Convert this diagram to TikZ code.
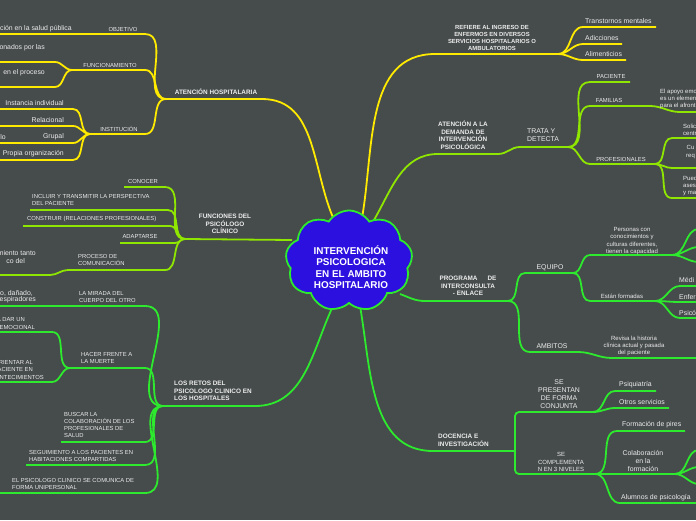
\documentclass[tikz,border=0pt]{standalone}
\usepackage{fontspec}
\setmainfont{Liberation Sans}
\usepackage{tikz}
\usetikzlibrary{shapes.symbols}
\definecolor{mBack}{HTML}{464B4B}
\definecolor{mYellow}{HTML}{FFEA00}
\definecolor{mLime}{HTML}{8FE600}
\definecolor{mGreen}{HTML}{2EEA2E}
\definecolor{mCloud}{HTML}{2C10DF}
\definecolor{mText}{HTML}{EDEDED}
\tikzset{
  ylw/.style={draw=mYellow, line width=1.8pt},
  lme/.style={draw=mLime, line width=1.8pt},
  grn/.style={draw=mGreen, line width=1.8pt},
  crv/.style={out=0, in=180},
  hd/.style={text=mText, font=\fontsize{6.4}{7.6}\selectfont\bfseries, align=center, inner sep=0pt},
  hdl/.style={hd, align=left, anchor=west},
  lbl/.style={text=mText, font=\fontsize{5.85}{7.2}\selectfont, align=left, inner sep=0pt},
  leaf/.style={text=mText, font=\fontsize{6.9}{8.2}\selectfont, align=left, inner sep=0pt},
  note/.style={text=mText, font=\fontsize{6}{7.2}\selectfont, align=center, inner sep=0pt},
}

\begin{document}
\begin{tikzpicture}[x=1pt, y=1pt]
\fill[mBack] (0,0) rectangle (696,-520);
\useasboundingbox (0,0) rectangle (696,-520);

\coordinate (ahA) at (166,-99);
\coordinate (ahB) at (262,-99);
\coordinate (cA) at (335,-222);
\coordinate (obA) at (-3,-34);
\coordinate (obB) at (145,-34);
\coordinate (fuA) at (72,-70);
\coordinate (fuB) at (145,-70);
\coordinate (f1A) at (-3,-62);
\coordinate (f1B) at (55,-62);
\coordinate (f2A) at (-3,-87);
\coordinate (f2B) at (55,-87);
\coordinate (isA) at (90,-134);
\coordinate (isB) at (145,-134);
\coordinate (i1A) at (-3,-109);
\coordinate (i1B) at (73,-109);
\coordinate (i2A) at (-3,-126);
\coordinate (i2B) at (73,-126);
\coordinate (i3A) at (-3,-143);
\coordinate (i3B) at (73,-143);
\coordinate (i4A) at (-3,-160);
\coordinate (i4B) at (73,-160);
\draw[ylw] (ahA) -- (ahB) to[out=0,in=115] (cA);
\draw[ylw] (obA) -- (obB) to[crv] (ahA);
\draw[ylw] (fuA) -- (fuB) to[crv] (ahA);
\draw[ylw] (f1A) -- (f1B) to[crv] (fuA);
\draw[ylw] (f2A) -- (f2B) to[crv] (fuA);
\draw[ylw] (isA) -- (isB) to[crv] (ahA);
\draw[ylw] (i1A) -- (i1B) to[crv] (isA);
\draw[ylw] (i2A) -- (i2B) to[crv] (isA);
\draw[ylw] (i3A) -- (i3B) to[crv] (isA);
\draw[ylw] (i4A) -- (i4B) to[crv] (isA);

\coordinate (cB) at (362,-218);
\coordinate (riA) at (435,-54);
\coordinate (riB) at (558,-54);
\coordinate (trA) at (583,-27);
\coordinate (trB) at (656,-27);
\coordinate (dxA) at (583,-44);
\coordinate (dxB) at (622,-44);
\coordinate (amtA) at (583,-60);
\coordinate (amtB) at (626,-60);
\draw[ylw] (cB) to[out=80,in=180] (riA) -- (riB);
\draw[ylw] (riB) to[crv] (trA) -- (trB);
\draw[ylw] (riB) to[crv] (dxA) -- (dxB);
\draw[ylw] (riB) to[crv] (amtA) -- (amtB);

\coordinate (cC) at (374,-220);
\coordinate (adA) at (438,-154);
\coordinate (adB) at (498,-154);
\coordinate (tdA) at (520,-147);
\coordinate (tdB) at (568,-147);
\coordinate (paA) at (590,-82);
\coordinate (paB) at (630,-82);
\coordinate (faA) at (590,-106);
\coordinate (faB) at (650,-106);
\coordinate (faC) at (680,-112);
\coordinate (faD) at (699,-112);
\coordinate (prA) at (590,-164);
\coordinate (prB) at (655,-164);
\coordinate (p1A) at (672,-138);
\coordinate (p1B) at (699,-138);
\coordinate (p2A) at (672,-168);
\coordinate (p2B) at (699,-168);
\coordinate (p3A) at (672,-198);
\coordinate (p3B) at (699,-198);
\draw[lme] (cC) to[out=60,in=180] (adA) -- (adB) to[crv] (tdA) -- (tdB);
\draw[lme] (tdB) to[crv] (paA) -- (paB);
\draw[lme] (tdB) to[crv] (faA) -- (faB) to[crv] (faC) -- (faD);
\draw[lme] (tdB) to[crv] (prA) -- (prB);
\draw[lme] (prB) to[crv] (p1A) -- (p1B);
\draw[lme] (prB) to[crv] (p2A) -- (p2B);
\draw[lme] (prB) to[crv] (p3A) -- (p3B);

\coordinate (cD) at (400,-294);
\coordinate (pgA) at (425,-301);
\coordinate (pgB) at (508,-301);
\coordinate (eqA) at (525,-273);
\coordinate (eqB) at (573,-273);
\coordinate (ambA) at (530,-352);
\coordinate (ambB) at (578,-352);
\coordinate (ambC) at (612,-358);
\coordinate (ambD) at (699,-358);
\coordinate (peA) at (590,-255);
\coordinate (peB) at (672,-255);
\coordinate (pe1) at (699,-229);
\coordinate (pe2) at (699,-247);
\coordinate (pe3) at (699,-262);
\coordinate (efA) at (590,-301);
\coordinate (efB) at (655,-301);
\coordinate (e1A) at (680,-286);
\coordinate (e1B) at (699,-286);
\coordinate (e2A) at (680,-302);
\coordinate (e2B) at (699,-302);
\coordinate (e3A) at (680,-318);
\coordinate (e3B) at (699,-318);
\draw[grn] (cD) to[out=-20,in=180] (pgA) -- (pgB);
\draw[grn] (pgB) to[crv] (eqA) -- (eqB);
\draw[grn] (pgB) to[crv] (ambA) -- (ambB) to[crv] (ambC) -- (ambD);
\draw[grn] (eqB) to[crv] (peA) -- (peB);
\draw[grn] (peB) to[crv] (pe1);
\draw[grn] (peB) to[crv] (pe2);
\draw[grn] (peB) to[crv] (pe3);
\draw[grn] (eqB) to[crv] (efA) -- (efB);
\draw[grn] (efB) to[crv] (e1A) -- (e1B);
\draw[grn] (efB) to[crv] (e2A) -- (e2B);
\draw[grn] (efB) to[crv] (e3A) -- (e3B);

\coordinate (cE) at (360,-306);
\coordinate (dcA) at (433,-451);
\coordinate (dcB) at (515,-451);
\coordinate (spA) at (515,-412);
\coordinate (spB) at (593,-412);
\coordinate (scA) at (515,-474);
\coordinate (scB) at (595,-474);
\coordinate (psA) at (615,-391);
\coordinate (psB) at (656,-391);
\coordinate (osA) at (615,-408);
\coordinate (osB) at (669,-408);
\coordinate (fmA) at (617,-431);
\coordinate (fmB) at (685,-431);
\coordinate (cfB) at (675,-474);
\coordinate (cf1) at (699,-450);
\coordinate (cf2) at (699,-467);
\coordinate (cf3) at (699,-484);
\coordinate (alA) at (620,-503);
\coordinate (alB) at (699,-503);
\draw[grn] (cE) to[out=-80,in=180] (dcA) -- (dcB);
\draw[grn, rounded corners=4pt] (spB) -- (spA) -- (scA) -- (scB);
\draw[grn] (spB) to[crv] (psA) -- (psB);
\draw[grn] (spB) to[crv] (osA) -- (osB);
\draw[grn] (scB) to[crv] (fmA) -- (fmB);
\draw[grn] (scB) -- (cfB);
\draw[grn] (cfB) to[crv] (cf1);
\draw[grn] (cfB) to[crv] (cf2);
\draw[grn] (cfB) to[crv] (cf3);
\draw[grn] (scB) to[crv] (alA) -- (alB);

\coordinate (cF) at (333,-306);
\coordinate (lrA) at (163,-406);
\coordinate (lrB) at (255,-406);
\coordinate (mrA) at (-3,-306);
\coordinate (mrB) at (145,-306);
\coordinate (hfA) at (70,-368);
\coordinate (hfB) at (145,-368);
\coordinate (h1A) at (-3,-332);
\coordinate (h1B) at (52,-332);
\coordinate (h2A) at (-3,-382);
\coordinate (h2B) at (52,-382);
\coordinate (bcA) at (61,-442);
\coordinate (bcB) at (145,-442);
\coordinate (seA) at (26,-465);
\coordinate (seB) at (145,-465);
\coordinate (elA) at (-3,-493);
\coordinate (elB) at (145,-493);
\draw[grn] (lrA) -- (lrB) to[out=0,in=-115] (cF);
\draw[grn] (mrA) -- (mrB) to[crv] (lrA);
\draw[grn] (hfA) -- (hfB) to[crv] (lrA);
\draw[grn] (h1A) -- (h1B) to[crv] (hfA);
\draw[grn] (h2A) -- (h2B) to[crv] (hfA);
\draw[grn] (bcA) -- (bcB) to[crv] (lrA);
\draw[grn] (seA) -- (seB) to[crv] (lrA);
\draw[grn] (elA) -- (elB) to[crv] (lrA);

\coordinate (cG) at (292,-240);
\coordinate (fpA) at (185,-239);
\coordinate (coA) at (124,-187);
\coordinate (coB) at (165,-187);
\coordinate (inA) at (30,-210);
\coordinate (inB) at (168,-210);
\coordinate (csA) at (23,-226);
\coordinate (csB) at (170,-226);
\coordinate (apA) at (120,-243);
\coordinate (apB) at (175,-243);
\coordinate (pcA) at (68,-270);
\coordinate (pcB) at (165,-270);
\coordinate (pxA) at (-3,-275);
\coordinate (pxB) at (50,-275);
\draw[lme] (fpA) -- (cG);
\draw[lme] (coA) -- (coB) to[crv] (fpA);
\draw[lme] (inA) -- (inB) to[crv] (fpA);
\draw[lme] (csA) -- (csB) to[crv] (fpA);
\draw[lme] (apA) -- (apB) to[crv] (fpA);
\draw[lme] (pcA) -- (pcB) to[crv] (fpA);
\draw[lme] (pxA) -- (pxB) to[crv] (pcA);

\node[cloud, cloud puffs=9, cloud puff arc=115, cloud ignores aspect, draw=mGreen, line width=1.8pt, fill=mCloud,
  minimum width=127pt, minimum height=101pt, inner sep=0pt] (core) at (349,-261) {};
\node[text=white, align=center, inner sep=0pt, font=\fontsize{9.9}{11.4}\selectfont\bfseries] (coreT) at (351,-267)
  {INTERVENCIÓN\\PSICOLOGICA\\EN EL AMBITO\\HOSPITALARIO};

\node[hd] (ahT) at (216,-92) {ATENCIÓN HOSPITALARIA};
\node[lbl] (obT) at (123,-29) {OBJETIVO};
\node[leaf, anchor=east] (obL) at (72,-29) {ción en la salud pública};
\node[lbl] (fuT) at (110,-65) {FUNCIONAMIENTO};
\node[leaf, anchor=east] (f1L) at (45,-48) {onados por las};
\node[leaf, anchor=east] (f2L) at (45,-73) {en el proceso};
\node[lbl] (isT) at (119,-129) {INSTITUCIÓN};
\node[leaf, anchor=east] (i1L) at (64,-103) {Instancia individual};
\node[leaf, anchor=east] (i2L) at (64,-120) {Relacional};
\node[leaf, anchor=east] (i3L) at (64,-137) {Grupal};
\node[leaf, anchor=east] (i3M) at (6,-137) {lo};
\node[leaf, anchor=east] (i4L) at (64,-154) {Propia organización};

\node[hd, font=\fontsize{5.9}{7.2}\selectfont\bfseries] (riT) at (492,-38)
  {REFIERE AL INGRESO DE\\ENFERMOS EN DIVERSOS\\SERVICIOS HOSPITALARIOS O\\AMBULATORIOS};
\node[leaf, anchor=west] (trL) at (585,-21) {Transtornos mentales};
\node[leaf, anchor=west] (dxL) at (585,-38) {Adicciones};
\node[leaf, anchor=west] (amtL) at (585,-54) {Alimenticios};

\node[hd] (adT) at (463,-135) {ATENCIÓN A LA\\DEMANDA DE\\INTERVENCIÓN\\PSICOLÓGICA};
\node[leaf, anchor=west] (tdT) at (527,-135) {TRATA Y\\DETECTA};
\node[lbl] (paT) at (611,-76) {PACIENTE};
\node[lbl] (faT) at (609,-100) {FAMILIAS};
\node[note, align=left, anchor=west] (faL) at (660,-99) {El apoyo emo\\es un elemen\\para el afront};
\node[lbl] (prT) at (621,-159) {PROFESIONALES};
\node[note, align=left, anchor=west] (p1L) at (683,-130) {Solic\\centr};
\node[note, anchor=west] (p2L) at (686,-152) {Cu\\req};
\node[note, align=left, anchor=west] (p3L) at (683,-186) {Pued\\asesor\\y ma};

\node[hd] (pgT) at (468,-286) {PROGRAMA\hspace{10pt}DE\\INTERCONSULTA\\- ENLACE};
\node[leaf] (eqT) at (550,-268) {EQUIPO};
\node[leaf] (ambT) at (552,-346) {AMBITOS};
\node[note] (ambL) at (634,-346) {Revisa la historia\\clínica actual y pasada\\del paciente};
\node[note] (peT) at (632,-241) {Personas con\\conocimientos y\\culturas diferentes,\\tienen la capacidad};
\node[note] (efT) at (622,-296) {Están formadas};
\node[leaf, anchor=west] (e1L) at (679,-280) {Médi};
\node[leaf, anchor=west] (e2L) at (679,-297) {Enfer};
\node[leaf, anchor=west] (e3L) at (679,-313) {Psicó};

\node[hdl] (dcT) at (438,-440) {DOCENCIA E\\INVESTIGACIÓN};
\node[leaf, align=center] (spT) at (559,-394) {SE\\PRESENTAN\\DE FORMA\\CONJUNTA};
\node[note] (scT) at (561,-462) {SE\\COMPLEMENTA\\N EN 3 NIVELES};
\node[leaf, anchor=west] (psL) at (619,-385) {Psiquiatría};
\node[leaf, anchor=west] (osL) at (619,-402) {Otros servicios};
\node[leaf, anchor=west] (fmL) at (622,-425) {Formación de pires};
\node[leaf, align=center] (cfT) at (643,-461) {Colaboración\\en la\\formación};
\node[leaf, anchor=west] (alL) at (621,-498) {Alumnos de psicología};

\node[hdl] (lrT) at (174,-391) {LOS RETOS DEL\\PSICOLOGO CLINICO EN\\LOS HOSPITALES};
\node[lbl, anchor=west] (mrT) at (79,-297) {LA MIRADA DEL\\CUERPO DEL OTRO};
\node[leaf, anchor=east] (mrL1) at (33,-293) {o, dañado,};
\node[leaf, anchor=east] (mrL2) at (36,-300) {espiradores};
\node[lbl, anchor=west] (hfT) at (81,-358) {HACER FRENTE A\\LA MUERTE};
\node[lbl, anchor=east] (h1L1) at (25,-320) {A DAR UN};
\node[lbl, anchor=east] (h1L2) at (35,-327) {EMOCIONAL};
\node[lbl, anchor=east] (h2L1) at (33,-362) {RIENTAR AL};
\node[lbl, anchor=east] (h2L2) at (33,-369) {ACIENTE EN};
\node[lbl, anchor=east] (h2L3) at (44,-377) {NTECIMIENTOS};
\node[lbl, anchor=west] (bcT) at (64,-425) {BUSCAR LA\\COLABORACIÓN DE LOS\\PROFESIONALES DE\\SALUD};
\node[lbl, anchor=west] (seT) at (29,-456) {SEGUIMIENTO A LOS PACIENTES EN\\HABITACIONES COMPARTIDAS};
\node[lbl, anchor=west] (elT) at (12,-484) {EL PSICOLOGO CLINICO SE COMUNICA DE\\FORMA UNIPERSONAL};

\node[hd] (fpT) at (225,-224) {FUNCIONES DEL\\PSICÓLOGO\\CLÍNICO};
\node[lbl] (coT) at (143,-181) {CONOCER};
\node[lbl, anchor=west] (inT) at (32,-200) {INCLUIR Y TRANSMITIR LA PERSPECTIVA\\DEL PACIENTE};
\node[lbl, anchor=west] (csT) at (27,-219) {CONSTRUIR (RELACIONES PROFESIONALES)};
\node[lbl] (apT) at (140,-236) {ADAPTARSE};
\node[lbl, anchor=west] (pcT) at (78,-260) {PROCESO DE\\COMUNICACIÓN};
\node[leaf, anchor=east] (pxL1) at (36,-253) {miento tanto};
\node[leaf, anchor=east] (pxL2) at (25,-261) {co del};
\end{tikzpicture}
\end{document}
